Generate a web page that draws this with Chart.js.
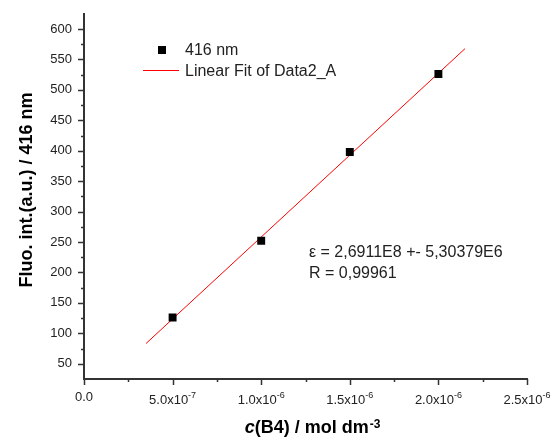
<!DOCTYPE html>
<html>
<head>
<meta charset="utf-8">
<script src="https://cdn.jsdelivr.net/npm/chart.js@4.4.1/dist/chart.umd.min.js"></script>
<style>
    body { margin: 0; background: #fff; }
    #wrap { width: 554px; height: 442px; }
</style>
</head>
<body>
<div id="wrap"><canvas id="fluoChart" width="554" height="442"></canvas></div>
<script>
"use strict";

// measured points (416 nm)
const concentrations = [5e-7, 1e-6, 1.5e-6, 2e-6];
const intensities = [126, 252, 398, 526];

// linear fit end points
const fitX = [3.5e-7, 2.15e-6];
const fitY = [83.3, 567.7];

// axis ticks
const yTicks = [50, 100, 150, 200, 250, 300, 350, 400, 450, 500, 550, 600];
const yMinorTicks = [75, 125, 175, 225, 275, 325, 375, 425, 475, 525, 575];
const xTicks = [0, 5e-7, 1e-6, 1.5e-6, 2e-6, 2.5e-6];
const xMinorTicks = [2.5e-7, 7.5e-7, 1.25e-6, 1.75e-6, 2.25e-6];
const xTickLabels = ["0.0", "5.0x10", "1.0x10", "1.5x10", "2.0x10", "2.5x10"];
const xTickExps = ["", "-7", "-6", "-6", "-6", "-6"];

const seriesName = "416 nm";
const fitName = "Linear Fit of Data2_A";
const fitTextLines = ["\u03b5 = 2,6911E8 +- 5,30379E6", "R = 0,99961"];

const FONT = "'Liberation Sans', Arial, sans-serif";
const AXIS_COLOR = "#333";
const TEXT_COLOR = "#222";

// ticks, labels, titles, legend and fit text
const decorPlugin = {
    id: 'decor',
    afterDraw(chart) {
        const ctx = chart.ctx;
        const xs = chart.scales.x;
        const ys = chart.scales.y;
        const area = chart.chartArea;
        ctx.save();

        // tick marks
        ctx.strokeStyle = AXIS_COLOR;
        ctx.lineWidth = 1.5;
        ctx.beginPath();
        yTicks.forEach(v => {
            const y = Math.round(ys.getPixelForValue(v)) + 0.5;
            ctx.moveTo(area.left - 6, y); ctx.lineTo(area.left, y);
        });
        yMinorTicks.forEach(v => {
            const y = Math.round(ys.getPixelForValue(v)) + 0.5;
            ctx.moveTo(area.left - 3, y); ctx.lineTo(area.left, y);
        });
        xTicks.forEach(v => {
            const x = Math.round(xs.getPixelForValue(v)) + 0.5;
            ctx.moveTo(x, area.bottom); ctx.lineTo(x, area.bottom + 6);
        });
        xMinorTicks.forEach(v => {
            const x = Math.round(xs.getPixelForValue(v)) + 0.5;
            ctx.moveTo(x, area.bottom); ctx.lineTo(x, area.bottom + 3);
        });
        ctx.stroke();

        // x tick labels with exponent
        ctx.fillStyle = TEXT_COLOR;
        ctx.textBaseline = 'alphabetic';
        ctx.textAlign = 'left';
        xTicks.forEach((v, i) => {
            const x = xs.getPixelForValue(v);
            ctx.font = `13px ${FONT}`;
            const w1 = ctx.measureText(xTickLabels[i]).width;
            ctx.font = `9px ${FONT}`;
            const w2 = xTickExps[i] ? ctx.measureText(xTickExps[i]).width : 0;
            const start = x - (w1 + w2) / 2;
            ctx.font = `13px ${FONT}`;
            // plain label sits a little higher, like the original
            ctx.fillText(xTickLabels[i], start, area.bottom + (xTickExps[i] ? 25 : 22));
            if (xTickExps[i]) {
                ctx.font = `9px ${FONT}`;
                ctx.fillText(xTickExps[i], start + w1, area.bottom + 19);
            }
        });

        // x title: c(B4) / mol dm-3
        ctx.fillStyle = '#000';
        ctx.font = `italic bold 18px ${FONT}`;
        const wc = ctx.measureText("c").width;
        ctx.font = `bold 18px ${FONT}`;
        const wm = ctx.measureText("(B4) / mol dm").width;
        ctx.font = `bold 12px ${FONT}`;
        const we = ctx.measureText("-3").width;
        let tx = 312 - (wc + wm + we) / 2;
        const ty = area.bottom + 54;
        ctx.font = `italic bold 18px ${FONT}`;
        ctx.fillText("c", tx, ty);
        ctx.font = `bold 18px ${FONT}`;
        ctx.fillText("(B4) / mol dm", tx + wc, ty);
        ctx.font = `bold 12px ${FONT}`;
        ctx.fillText("-3", tx + wc + wm + 1, ty - 5);

        // y title
        ctx.save();
        ctx.translate(32, 190);
        ctx.rotate(-Math.PI / 2);
        ctx.textAlign = 'center';
        ctx.font = `bold 18px ${FONT}`;
        ctx.fillText("Fluo. int.(a.u.) / 416 nm", 0, 0);
        ctx.restore();

        // legend
        ctx.fillStyle = '#000';
        ctx.fillRect(158, 46, 8, 8);
        ctx.strokeStyle = '#ff0000';
        ctx.lineWidth = 1;
        ctx.beginPath();
        ctx.moveTo(143, 70.5); ctx.lineTo(179, 70.5);
        ctx.stroke();
        ctx.fillStyle = TEXT_COLOR;
        ctx.font = `16px ${FONT}`;
        ctx.fillText(seriesName, 185, 55);
        ctx.fillText(fitName, 185, 76);

        // fit result
        ctx.fillText(fitTextLines[0], 309, 257);
        ctx.fillText(fitTextLines[1], 309, 278);

        ctx.restore();
    }
};

const ctx = document.getElementById('fluoChart').getContext('2d');
new Chart(ctx, {
    type: 'scatter',
    data: {
        datasets: [{
            label: fitName,
            type: 'line',
            data: fitX.map((x, i) => ({ x: x, y: fitY[i] })),
            borderColor: '#ff0000',
            borderWidth: 1,
            pointRadius: 0,
            fill: false,
            order: 2
        }, {
            label: seriesName,
            data: concentrations.map((x, i) => ({ x: x, y: intensities[i] })),
            pointStyle: 'rect',
            pointRadius: 5.6,
            backgroundColor: '#000',
            borderColor: '#000',
            borderWidth: 0,
            order: 1
        }]
    },
    options: {
        responsive: false,
        animation: false,
        layout: { padding: { top: 13, right: 27, left: 0, bottom: 0 } },
        plugins: {
            legend: { display: false },
            tooltip: { enabled: false }
        },
        scales: {
            x: {
                type: 'linear',
                min: 0,
                max: 2.5e-6,
                grid: { display: false },
                border: { display: true, color: AXIS_COLOR, width: 2 },
                ticks: { display: false },
                afterBuildTicks: (scale) => { scale.ticks = xTicks.map(v => ({ value: v })); },
                afterFit: (scale) => { scale.height = 63; }
            },
            y: {
                type: 'linear',
                min: 25,
                max: 625,
                grid: { display: false, drawTicks: true, tickLength: 6 },
                border: { display: true, color: AXIS_COLOR, width: 2 },
                ticks: {
                    padding: 6,
                    color: TEXT_COLOR,
                    font: { family: FONT, size: 13 }
                },
                afterBuildTicks: (scale) => { scale.ticks = yTicks.map(v => ({ value: v })); },
                afterFit: (scale) => { scale.width = 84; }
            }
        }
    },
    plugins: [decorPlugin]
});
</script>
</body>
</html>
